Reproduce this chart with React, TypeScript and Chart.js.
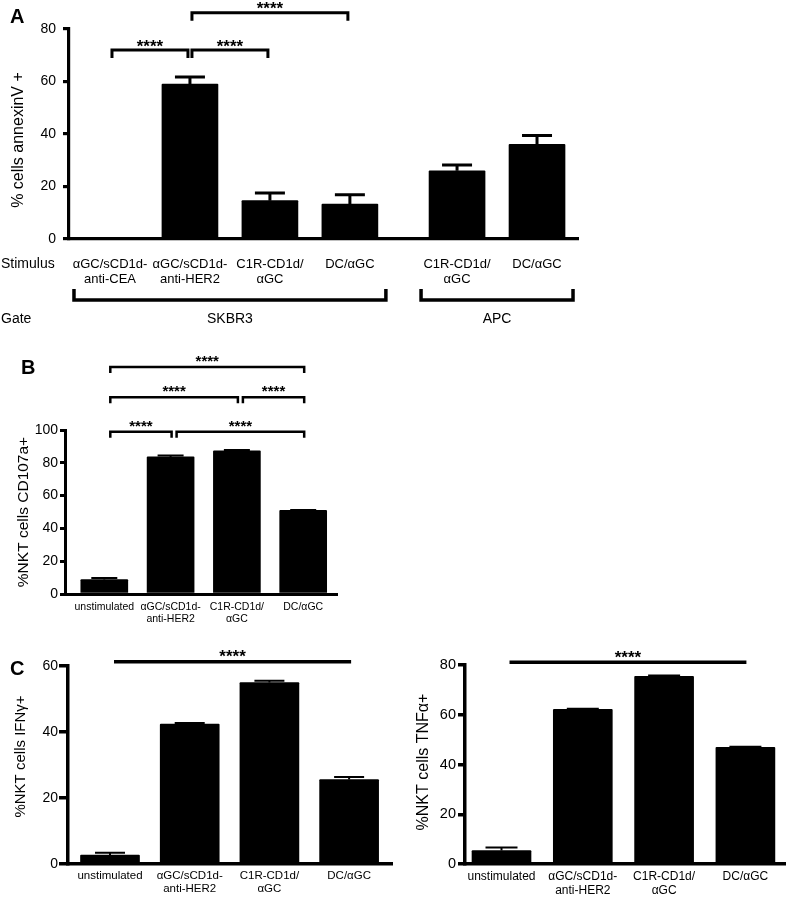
import React, { useEffect, useRef } from 'react';
import { Chart, registerables } from 'chart.js';

Chart.register(...registerables);

const FONT = "'Liberation Sans', Arial, Helvetica, sans-serif";
Chart.defaults.font.family = FONT;
Chart.defaults.color = '#000';

// ---------- Panel A data ----------
const stimulusA: string[][] = [
  ['αGC/sCD1d-', 'anti-CEA'],
  ['αGC/sCD1d-', 'anti-HER2'],
  ['C1R-CD1d/', 'αGC'],
  ['DC/αGC'],
  ['C1R-CD1d/', 'αGC'],
  ['DC/αGC'],
];
const gateA = ['SKBR3', 'SKBR3', 'SKBR3', 'SKBR3', 'APC', 'APC'];
const annexinMean = [0, 59.0, 14.6, 13.3, 26.0, 36.1];
const annexinSem = [0, 2.7, 2.9, 3.6, 2.2, 3.3];
const annexinTicks = [0, 20, 40, 60, 80];
const annexinSig = [
  { from: 0, to: 1, y: 72, label: '****' },
  { from: 1, to: 2, y: 72, label: '****' },
  { from: 1, to: 3, y: 86.2, label: '****' },
];

// ---------- Panels B / C data ----------
const stimulusBC: string[][] = [
  ['unstimulated'],
  ['αGC/sCD1d-', 'anti-HER2'],
  ['C1R-CD1d/', 'αGC'],
  ['DC/αGC'],
];
const cd107Mean = [8.8, 83.6, 87.3, 51.0];
const cd107Sem = [1.0, 0.8, 0.5, 0.2];
const cd107Ticks = [0, 20, 40, 60, 80, 100];
const cd107Sig = [
  { from: 0, to: 1, y: 99, label: '****' },
  { from: 1, to: 3, y: 99, label: '****' },
  { from: 0, to: 2, y: 120, label: '****' },
  { from: 2, to: 3, y: 120, label: '****' },
  { from: 0, to: 3, y: 138.4, label: '****' },
];

const ifnMean = [2.7, 42.4, 55.0, 25.6];
const ifnSem = [0.7, 0.3, 0.5, 0.8];
const ifnTicks = [0, 20, 40, 60];
const ifnSig = [{ from: 0, to: 3, y: 61.3, label: '****' }];

const tnfMean = [5.4, 62.2, 75.4, 46.9];
const tnfSem = [1.2, 0.2, 0.4, 0.2];
const tnfTicks = [0, 20, 40, 60, 80];
const tnfSig = [{ from: 0, to: 3, y: 81.1, label: '****' }];

type Sig = { from: number; to: number; y: number; label: string };
type PanelCfg = {
  x: number; y: number; w: number; h: number;
  area: { left: number; top: number; right: number; bottom: number };
  positions: number[]; xMin: number; xMax: number;
  labels: string[][]; labelFont: number; labelLine: number; labelPad: number;
  values: number[]; errors: number[];
  yTicks: number[]; tickFont: number; tickLen: number; tickPad: number;
  axisW: number;
  barW: number; capW: number; errW: number;
  sig: Sig[]; sigInset: [number, number]; sigTick: number; sigW: number; sigFont: number; sigGap: number;
  title: string; titleFont: number; titleX: number; titleY: number;
  letter: string; letterX: number; letterY: number;
  extra?: (ctx: CanvasRenderingContext2D, px: (i: number) => number) => void;
};

function centerText(ctx: CanvasRenderingContext2D, text: string, cx: number, cy: number, font: string) {
  ctx.font = font;
  const m = ctx.measureText(text);
  const asc = m.actualBoundingBoxAscent;
  const desc = m.actualBoundingBoxDescent;
  ctx.textAlign = 'center';
  ctx.textBaseline = 'alphabetic';
  ctx.fillText(text, cx, cy + (asc - desc) / 2);
}

const groupGap = 0.34;
const positionsA = gateA.map((g, i) => i + (i > 0 && gateA.indexOf(g) > 0 ? groupGap : 0));
const idx4 = stimulusBC.map((_, i) => i);

const panelA: PanelCfg = {
  x: 0, y: 0, w: 787, h: 340,
  area: { left: 69, top: 29, right: 578, bottom: 239 },
  positions: positionsA, xMin: -0.5125, xMax: 5.8525,
  labels: stimulusA, labelFont: 13, labelLine: 15, labelPad: 17.5,
  values: annexinMean, errors: annexinSem,
  yTicks: annexinTicks, tickFont: 14, tickLen: 6, tickPad: 7,
  axisW: 3.2,
  barW: 56, capW: 30, errW: 3,
  sig: annexinSig, sigInset: [2, -2], sigTick: 8, sigW: 3, sigFont: 17, sigGap: 7,
  title: '% cells annexinV +', titleFont: 16, titleX: 19, titleY: 140,
  letter: 'A', letterX: 10, letterY: 23,
  extra: (ctx, px) => {
    ctx.font = `14px ${FONT}`;
    ctx.textAlign = 'left';
    ctx.textBaseline = 'middle';
    ctx.fillText('Stimulus', 1, 264);
    ctx.fillText('Gate', 1, 319);
    const groups: { name: string; first: number; last: number }[] = [];
    gateA.forEach((g, i) => {
      const last = groups[groups.length - 1];
      if (last && last.name === g) last.last = i;
      else groups.push({ name: g, first: i, last: i });
    });
    ctx.lineWidth = 3.5;
    ctx.lineJoin = 'miter';
    groups.forEach((g) => {
      const x1 = px(g.first) - 36;
      const x2 = px(g.last) + 36;
      ctx.beginPath();
      ctx.moveTo(x1, 289);
      ctx.lineTo(x1, 300);
      ctx.lineTo(x2, 300);
      ctx.lineTo(x2, 289);
      ctx.stroke();
      ctx.font = `14px ${FONT}`;
      ctx.textAlign = 'center';
      ctx.textBaseline = 'middle';
      ctx.fillText(g.name, (x1 + x2) / 2, 319);
    });
  },
};

const panelB: PanelCfg = {
  x: 0, y: 340, w: 400, h: 290,
  area: { left: 65, top: 90, right: 337, bottom: 254 },
  positions: idx4, xMin: -0.5928, xMax: 3.51,
  labels: stimulusBC, labelFont: 10.5, labelLine: 12, labelPad: 7,
  values: cd107Mean, errors: cd107Sem,
  yTicks: cd107Ticks, tickFont: 14, tickLen: 5, tickPad: 2,
  axisW: 3,
  barW: 47, capW: 26, errW: 2,
  sig: cd107Sig, sigInset: [6, 1], sigTick: 6, sigW: 2.5, sigFont: 15, sigGap: 8,
  title: '%NKT cells CD107a+', titleFont: 15.5, titleX: 24, titleY: 172,
  letter: 'B', letterX: 21, letterY: 34,
};

const panelC1: PanelCfg = {
  x: 0, y: 630, w: 395, h: 267,
  area: { left: 68, top: 36, right: 392, bottom: 234 },
  positions: idx4, xMin: -0.527, xMax: 3.538,
  labels: stimulusBC, labelFont: 11.5, labelLine: 13.5, labelPad: 5,
  values: ifnMean, errors: ifnSem,
  yTicks: ifnTicks, tickFont: 14, tickLen: 9, tickPad: 1,
  axisW: 3.5,
  barW: 59, capW: 30, errW: 2,
  sig: ifnSig, sigInset: [4, 2], sigTick: 0, sigW: 3.5, sigFont: 17, sigGap: 8,
  title: '%NKT cells IFNγ+', titleFont: 15, titleX: 21, titleY: 126.5,
  letter: 'C', letterX: 10, letterY: 45,
};

const panelC2: PanelCfg = {
  x: 395, y: 630, w: 392, h: 267,
  area: { left: 70, top: 35, right: 390, bottom: 234 },
  positions: idx4, xMin: -0.449, xMax: 3.487,
  labels: stimulusBC, labelFont: 12, labelLine: 13.5, labelPad: 6,
  values: tnfMean, errors: tnfSem,
  yTicks: tnfTicks, tickFont: 14.5, tickLen: 7, tickPad: 2,
  axisW: 3.5,
  barW: 59, capW: 32, errW: 2,
  sig: tnfSig, sigInset: [8, 1], sigTick: 0, sigW: 3.5, sigFont: 17, sigGap: 8,
  title: '%NKT cells TNFα+', titleFont: 16, titleX: 29, titleY: 132,
  letter: '', letterX: 0, letterY: 0,
};

function Panel({ cfg }: { cfg: PanelCfg }) {
  const ref = useRef<HTMLCanvasElement>(null);
  useEffect(() => {
    const c = cfg;
    const canvas = ref.current!;
    const overlay = {
      id: 'overlay',
      afterDraw(chart: any) {
        const ctx: CanvasRenderingContext2D = chart.ctx;
        const xs = chart.scales.x;
        const ys = chart.scales.y;
        const px = (i: number) => xs.getPixelForValue(c.positions[i]);
        const py = (v: number) => ys.getPixelForValue(v);
        ctx.save();
        ctx.strokeStyle = '#000';
        ctx.fillStyle = '#000';
        // error bars (upper SEM)
        ctx.lineWidth = c.errW;
        ctx.lineCap = 'butt';
        c.values.forEach((v, i) => {
          const e = c.errors[i];
          if (!e) return;
          const x = px(i);
          const y0 = py(v);
          const y1 = py(v + e);
          ctx.beginPath();
          ctx.moveTo(x, y0);
          ctx.lineTo(x, y1);
          ctx.moveTo(x - c.capW / 2, y1);
          ctx.lineTo(x + c.capW / 2, y1);
          ctx.stroke();
        });
        // significance brackets
        ctx.lineWidth = c.sigW;
        ctx.lineJoin = 'miter';
        c.sig.forEach((s) => {
          const x1 = px(s.from) + c.sigInset[0];
          const x2 = px(s.to) + c.sigInset[1];
          const y = py(s.y);
          ctx.beginPath();
          if (c.sigTick) {
            ctx.moveTo(x1, y + c.sigTick);
            ctx.lineTo(x1, y);
            ctx.lineTo(x2, y);
            ctx.lineTo(x2, y + c.sigTick);
          } else {
            ctx.moveTo(x1, y);
            ctx.lineTo(x2, y);
          }
          ctx.stroke();
          centerText(ctx, s.label, (x1 + x2) / 2, y - c.sigGap, `bold ${c.sigFont}px ${FONT}`);
        });
        // y title
        ctx.save();
        ctx.translate(c.titleX, c.titleY);
        ctx.rotate(-Math.PI / 2);
        ctx.font = `${c.titleFont}px ${FONT}`;
        ctx.textAlign = 'center';
        ctx.textBaseline = 'middle';
        ctx.fillText(c.title, 0, 0);
        ctx.restore();
        // panel letter
        if (c.letter) {
          ctx.font = `bold 20px ${FONT}`;
          ctx.textAlign = 'left';
          ctx.textBaseline = 'alphabetic';
          ctx.fillText(c.letter, c.letterX, c.letterY);
        }
        if (c.extra) c.extra(ctx, px);
        ctx.restore();
      },
    };

    const chart = new Chart(canvas, {
      type: 'bar',
      data: {
        datasets: [
          {
            data: c.positions.map((x, i) => ({ x, y: c.values[i] })),
            backgroundColor: '#000',
            borderWidth: 0,
            barThickness: c.barW,
            borderRadius: 1,
          } as any,
        ],
      },
      options: {
        responsive: false,
        maintainAspectRatio: false,
        animation: false,
        events: [],
        layout: { padding: { left: 0, top: c.area.top, right: c.w - c.area.right, bottom: 0 } },
        plugins: { legend: { display: false }, tooltip: { enabled: false }, title: { display: false } },
        scales: {
          x: {
            type: 'linear',
            min: c.xMin,
            max: c.xMax,
            bounds: 'data',
            offset: false,
            grid: { display: false, drawTicks: false },
            border: { display: true, width: c.axisW, color: '#000' },
            ticks: {
              autoSkip: false,
              maxRotation: 0,
              minRotation: 0,
              color: '#000',
              padding: c.labelPad,
              font: { size: c.labelFont, lineHeight: `${c.labelLine}px`, family: FONT },
              callback: (_v: any, i: number) => c.labels[i],
            },
            afterBuildTicks: (s: any) => {
              s.ticks = c.positions.map((v) => ({ value: v }));
            },
            afterFit: (s: any) => {
              s.height = c.h - c.area.bottom;
            },
          } as any,
          y: {
            min: 0,
            max: c.yTicks[c.yTicks.length - 1],
            grid: { drawOnChartArea: false, drawTicks: true, tickLength: c.tickLen, lineWidth: c.axisW, color: '#000' },
            border: { display: true, width: c.axisW, color: '#000' },
            ticks: { color: '#000', padding: c.tickPad, font: { size: c.tickFont, family: FONT } },
            afterBuildTicks: (s: any) => {
              s.ticks = c.yTicks.map((v) => ({ value: v }));
            },
            afterFit: (s: any) => {
              s.width = c.area.left;
            },
          } as any,
        },
      },
      plugins: [overlay],
    });
    return () => chart.destroy();
  }, [cfg]);
  return (
    <canvas
      ref={ref}
      width={cfg.w}
      height={cfg.h}
      style={{ position: 'absolute', left: cfg.x, top: cfg.y, width: cfg.w, height: cfg.h, display: 'block' }}
    />
  );
}

export default function App() {
  return (
    <div style={{ position: 'absolute', left: 0, top: 0, width: 787, height: 897, background: '#fff', overflow: 'hidden' }}>
      <Panel cfg={panelA} />
      <Panel cfg={panelB} />
      <Panel cfg={panelC1} />
      <Panel cfg={panelC2} />
    </div>
  );
}
